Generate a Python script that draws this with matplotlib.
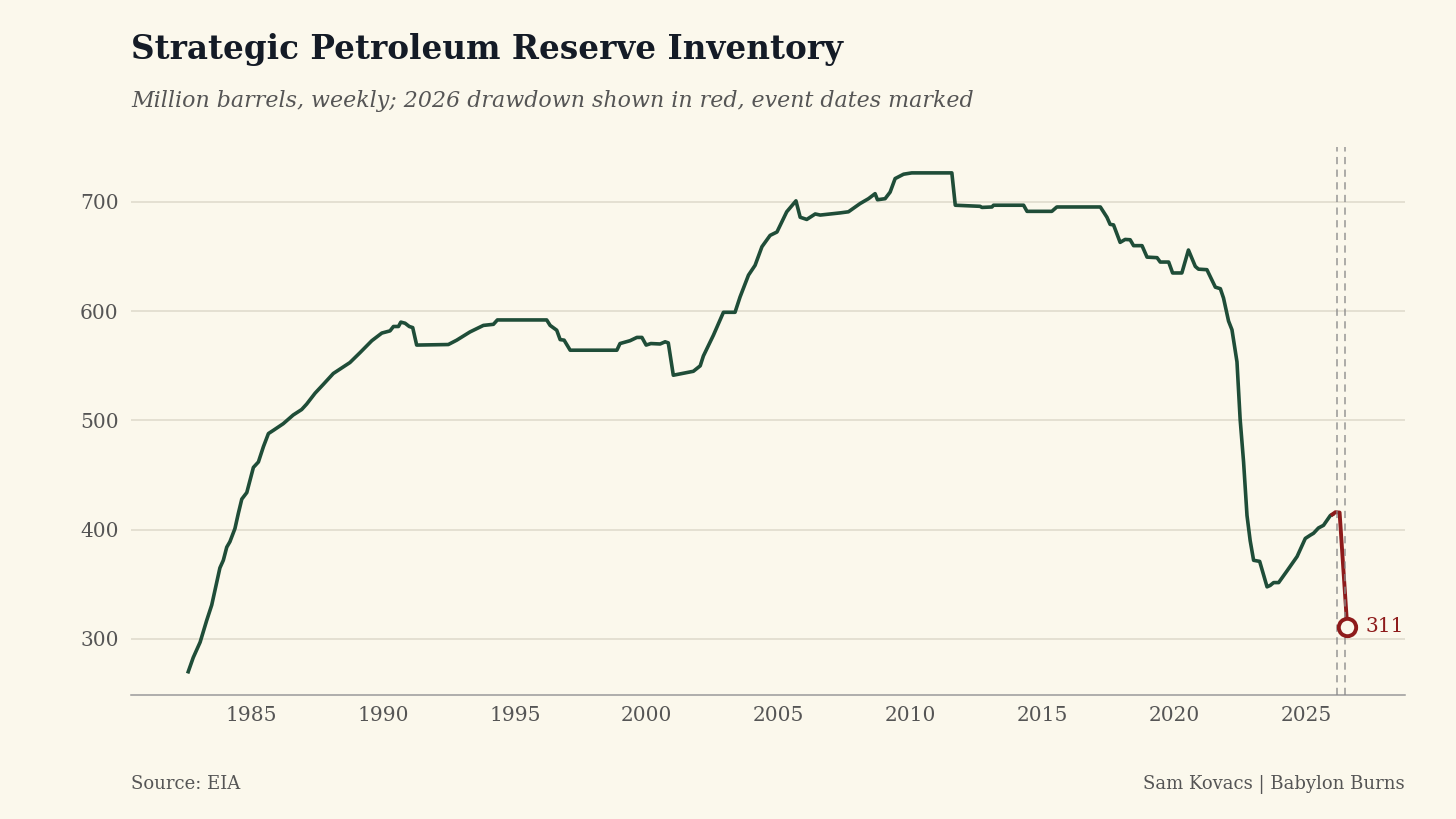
import matplotlib
matplotlib.use("Agg")
import matplotlib.pyplot as plt

# ---- data (million barrels) ----
years = [
    1982.62, 1982.81, 1983.07, 1983.32, 1983.51, 1983.70, 1983.82, 1983.95, 1984.08, 1984.20,
    1984.39, 1984.52, 1984.65, 1984.84, 1985.09, 1985.28, 1985.47, 1985.66, 1985.85, 1986.22,
    1986.60, 1986.92, 1987.11, 1987.43, 1987.74, 1988.12, 1988.50, 1988.75, 1989.13, 1989.58,
    1989.96, 1990.27, 1990.40, 1990.59, 1990.68, 1990.84, 1991.00, 1991.13, 1991.28,
    1992.48, 1992.80, 1993.30, 1993.81, 1994.19, 1994.34, 1996.21, 1996.34, 1996.59, 1996.72,
    1996.87, 1997.10, 1998.87, 1998.99, 1999.37, 1999.63, 1999.82, 1999.98, 2000.16, 2000.51,
    2000.70, 2000.82, 2001.01, 2001.77, 2002.03, 2002.15, 2002.53, 2002.91, 2003.35, 2003.54,
    2003.86, 2004.11, 2004.37, 2004.68, 2004.94, 2005.31, 2005.66, 2005.82, 2006.07, 2006.39,
    2006.58, 2007.34, 2007.65, 2008.09, 2008.41, 2008.66, 2008.75, 2009.04, 2009.23, 2009.42,
    2009.74, 2010.05, 2011.57, 2011.70, 2012.64, 2012.71, 2013.09, 2013.15, 2014.29, 2014.42,
    2015.36, 2015.55, 2017.20, 2017.45, 2017.57, 2017.70, 2017.95, 2018.14, 2018.33, 2018.46,
    2018.78, 2018.97, 2019.35, 2019.47, 2019.79, 2019.94, 2020.29, 2020.54, 2020.80, 2020.92,
    2021.24, 2021.56, 2021.75, 2021.87, 2022.06, 2022.19, 2022.38, 2022.50, 2022.63, 2022.76,
    2022.88, 2023.01, 2023.24, 2023.52, 2023.64, 2023.77, 2023.96, 2024.28, 2024.66, 2024.97,
    2025.16, 2025.28, 2025.47, 2025.66, 2025.92, 2026.00,
]
inventory = [
    270, 283, 297, 317, 331, 352, 365, 372, 384, 389,
    401, 415, 428, 434, 457, 462, 476, 488, 491, 497,
    505, 510, 515, 525, 533, 543, 549, 553, 562, 573,
    580, 582, 586, 586, 590, 589, 586, 585, 569,
    569.5, 573.5, 581, 587, 588, 592, 592, 587, 582.6, 574,
    573.5, 564.3, 564.3, 570.4, 573, 576, 576, 569, 570.4, 570,
    572, 571, 541.4, 545, 550, 559, 578, 599, 599, 613,
    633, 642, 659, 669.4, 672.5, 691, 701, 686, 684, 689,
    688, 690, 691, 698.5, 703, 707.6, 702, 703, 709, 721.4,
    725.4, 726.6, 726.6, 697, 696, 695, 695.4, 697, 697, 691.4,
    691.4, 695.4, 695.4, 686, 679.5, 679, 663, 665.7, 665.4, 660,
    660, 649.5, 649, 645, 645, 635, 635, 656, 641, 638.5,
    638, 622, 620.6, 612, 591, 583, 553.6, 501, 462, 413,
    390, 372, 371, 347.7, 349, 351.6, 351.6, 362.4, 375.5, 392,
    395, 396.7, 401.6, 404, 413, 414,
]
years_2026 = [2026.00, 2026.11, 2026.27, 2026.56]
inventory_2026 = [414, 416, 415.7, 311]
event_dates = [2026.18, 2026.48]
yticks = [300, 400, 500, 600, 700]
xticks = [1985, 1990, 1995, 2000, 2005, 2010, 2015, 2020, 2025]

title = "Strategic Petroleum Reserve Inventory"
subtitle = "Million barrels, weekly; 2026 drawdown shown in red, event dates marked"
source = "Source: EIA"
credit = "Sam Kovacs | Babylon Burns"

# ---- style ----
BG = "#FBF8EC"
GREEN = "#1F4D38"
RED = "#8E1B1B"
TXT = "#555555"

plt.rcParams["font.family"] = ["DejaVu Serif"]

fig = plt.figure(figsize=(14.56, 8.19), dpi=100, facecolor=BG)
ax = fig.add_axes([131 / 1456, 1 - 695 / 819, (1405 - 131) / 1456, (695 - 147) / 819])
ax.set_facecolor(BG)

ax.plot(years, inventory, color=GREEN, lw=2.6, solid_joinstyle="round", zorder=3)
ax.plot(years_2026, inventory_2026, color=RED, lw=2.8, solid_joinstyle="round", zorder=4)
for d in event_dates:
    ax.axvline(d, color="#8a8a8a", lw=1.3, ls=(0, (4, 3)), alpha=0.75, zorder=5)
ax.plot([years_2026[-1]], [inventory_2026[-1]], "o", ms=12.5, mfc=BG, mec=RED, mew=2.8, zorder=6)
ax.annotate(f"{inventory_2026[-1]:.0f}", (years_2026[-1], inventory_2026[-1]),
            xytext=(13, 0), textcoords="offset points", va="center", ha="left",
            color=RED, fontsize=14.5)

ax.set_xlim(1980.45, 2028.75)
ax.set_ylim(248.7, 750.3)
ax.set_xticks(xticks)
ax.set_yticks(yticks)
ax.grid(axis="y", color="#DDD9CB", lw=1.1, zorder=0)
ax.tick_params(axis="both", length=0, labelsize=14.5, labelcolor=TXT)
ax.tick_params(axis="x", pad=8)
ax.tick_params(axis="y", pad=9)
for s in ["top", "right", "left"]:
    ax.spines[s].set_visible(False)
ax.spines["bottom"].set_color("#9A9A9A")
ax.spines["bottom"].set_linewidth(1.1)

fig.text(131 / 1456, 1 - 50 / 819, title, fontsize=23.5, fontweight="bold",
         color="#141B26", va="center", ha="left")
fig.text(131 / 1456, 1 - 101 / 819, subtitle, fontsize=15.9, style="italic",
         color=TXT, va="center", ha="left")
fig.text(131 / 1456, 1 - 784 / 819, source, fontsize=13, color=TXT, va="center", ha="left")
fig.text(1405 / 1456, 1 - 784 / 819, credit, fontsize=13, color=TXT, va="center", ha="right")

fig.savefig("out.png", dpi=100, facecolor=BG)
